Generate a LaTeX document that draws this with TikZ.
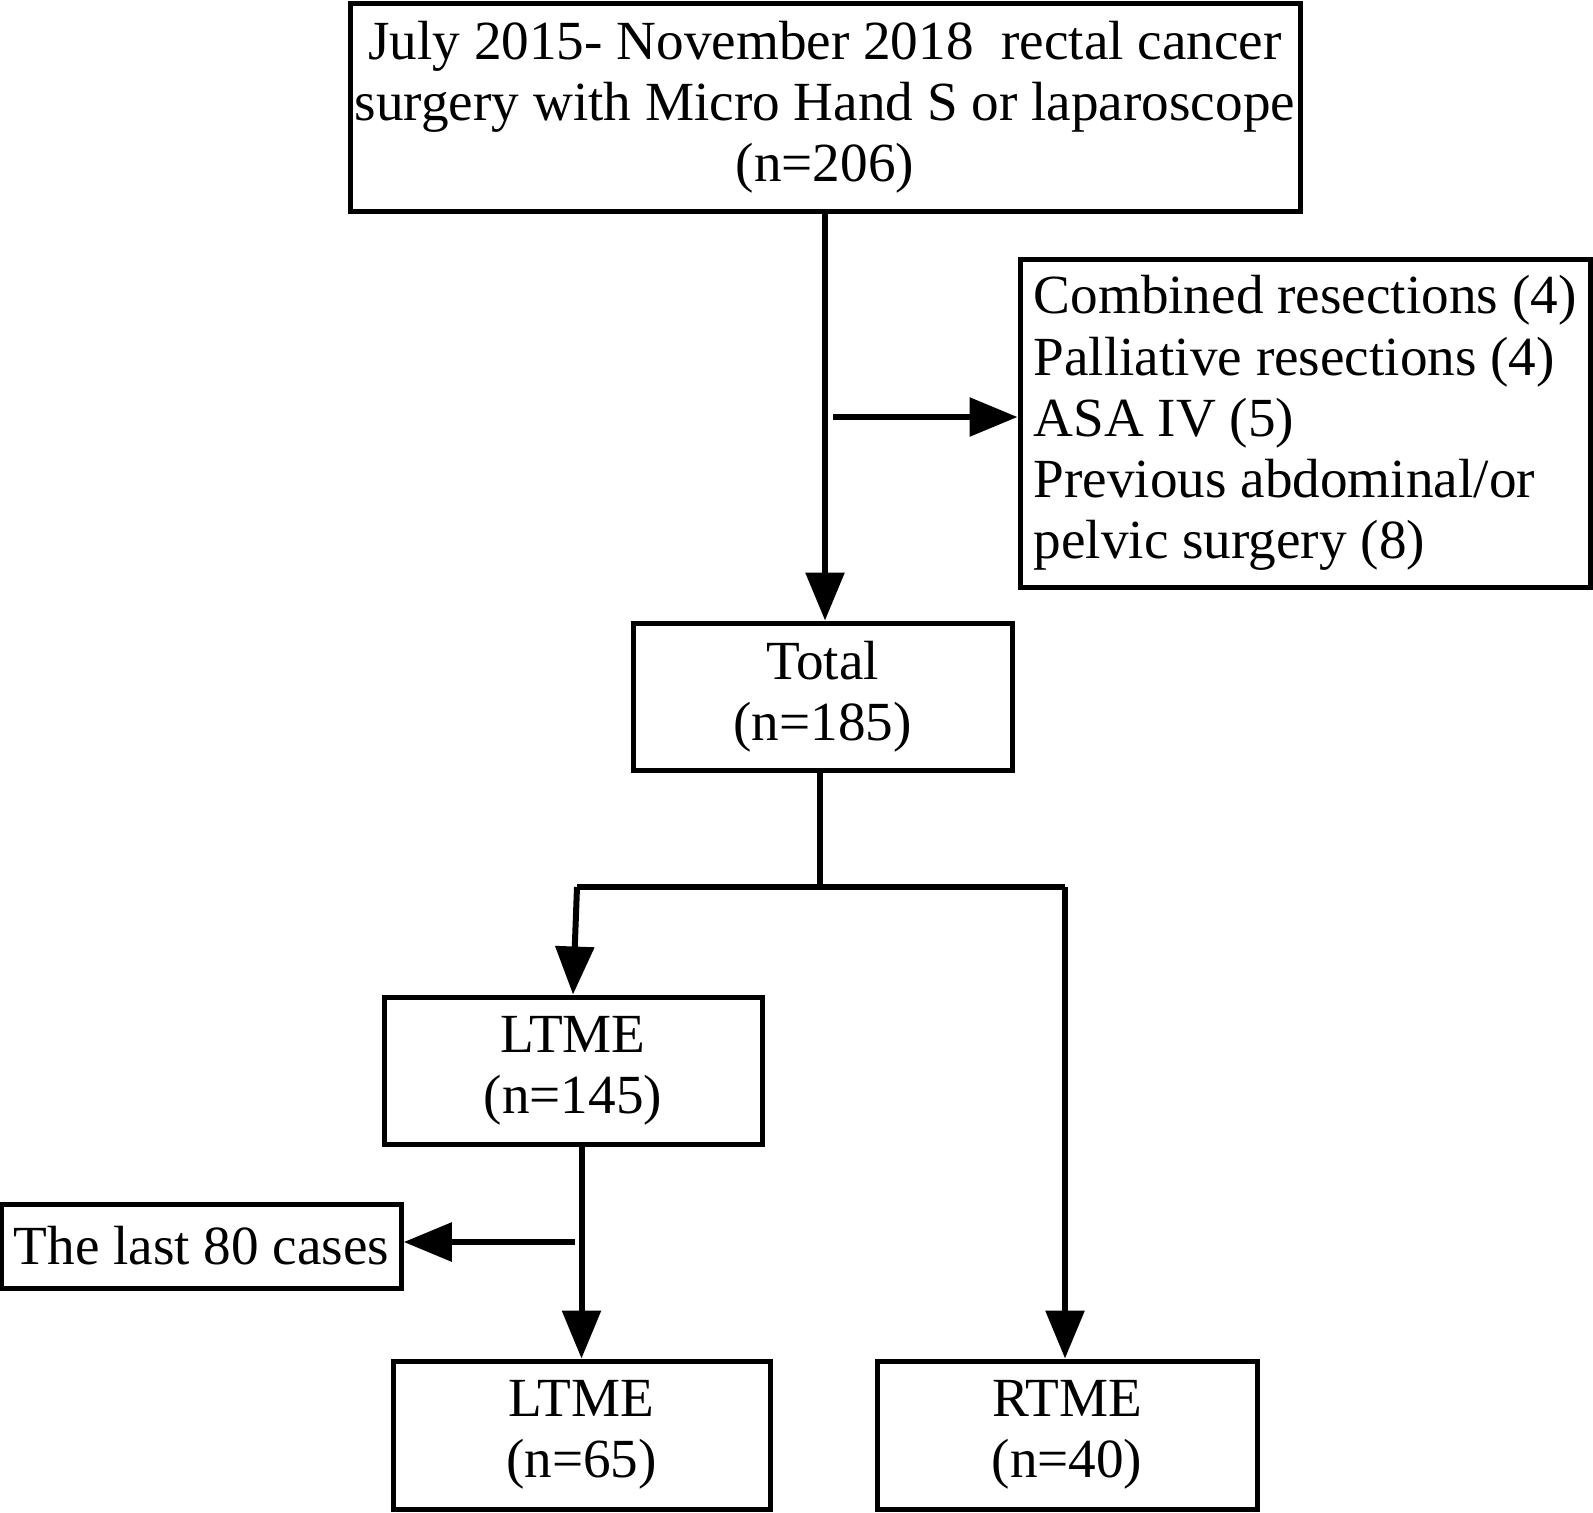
\documentclass[tikz,border=0pt]{standalone}
\usepackage{fontspec}
\setmainfont{Liberation Serif}
\usetikzlibrary{%
  arrows.meta,%
  positioning
}

\begin{document}
\begin{tikzpicture}[x=0.5pt,y=-0.5pt,
    box/.style={draw,line width=2.5pt,inner sep=0pt,align=center,
      font=\fontsize{27.6}{30.6}\selectfont},
    flow/.style={line width=3pt,-{Triangle[length=24pt,width=19pt]}},
    link/.style={line width=3pt}
  ]
  \useasboundingbox (0,0) rectangle (1593,1512);
  \node [box,minimum width=475pt,minimum height=104pt] (start) at (825,107)
    {July 2015- November 2018\ \ rectal cancer\\surgery with Micro Hand S or laparoscope\\(n=206)};
  \node [box,minimum width=285pt,minimum height=164pt,align=left] (excl) at (1305,423)
    {Combined resections (4)\\Palliative resections (4)\\ASA IV (5)\\Previous abdominal/or\\pelvic surgery (8)};
  \node [box,minimum width=189.5pt,minimum height=73.5pt] (total) at (822.5,696.5)
    {Total\\(n=185)};
  \node [box,minimum width=189pt,minimum height=73.5pt] (ltmeA) at (573,1070.5)
    {LTME\\(n=145)};
  \node [box,minimum width=198.5pt,minimum height=42pt,inner xsep=6pt] (last) at (201.5,1246)
    {The last 80 cases};
  \node [box,minimum width=188.5pt,minimum height=74pt] (ltmeB) at (581.5,1435)
    {LTME\\(n=65)};
  \node [box,minimum width=190pt,minimum height=74pt] (rtme) at (1067,1435)
    {RTME\\(n=40)};

  \coordinate (exclfrom) at (833,417);
  \coordinate (split) at (820,887);
  \coordinate (splitL) at (577,887);
  \coordinate (splitR) at (1065,887);
  \coordinate (lastfrom) at (575,1242);

  \draw [flow] (start.south) -- (start.south |- total.north);
  \draw [flow] (exclfrom) -- (exclfrom -| excl.west);
  \draw [link] (total.south -| split) -- (split);
  \draw [link] (splitL) -- (splitR);
  \draw [flow] (splitL) -- (ltmeA.north);
  \draw [flow] (splitR) -- (splitR |- rtme.north);
  \draw [flow] (ltmeB.north |- ltmeA.south) -- (ltmeB.north);
  \draw [flow] (lastfrom) -- (lastfrom -| last.east);
\end{tikzpicture}
\end{document}
